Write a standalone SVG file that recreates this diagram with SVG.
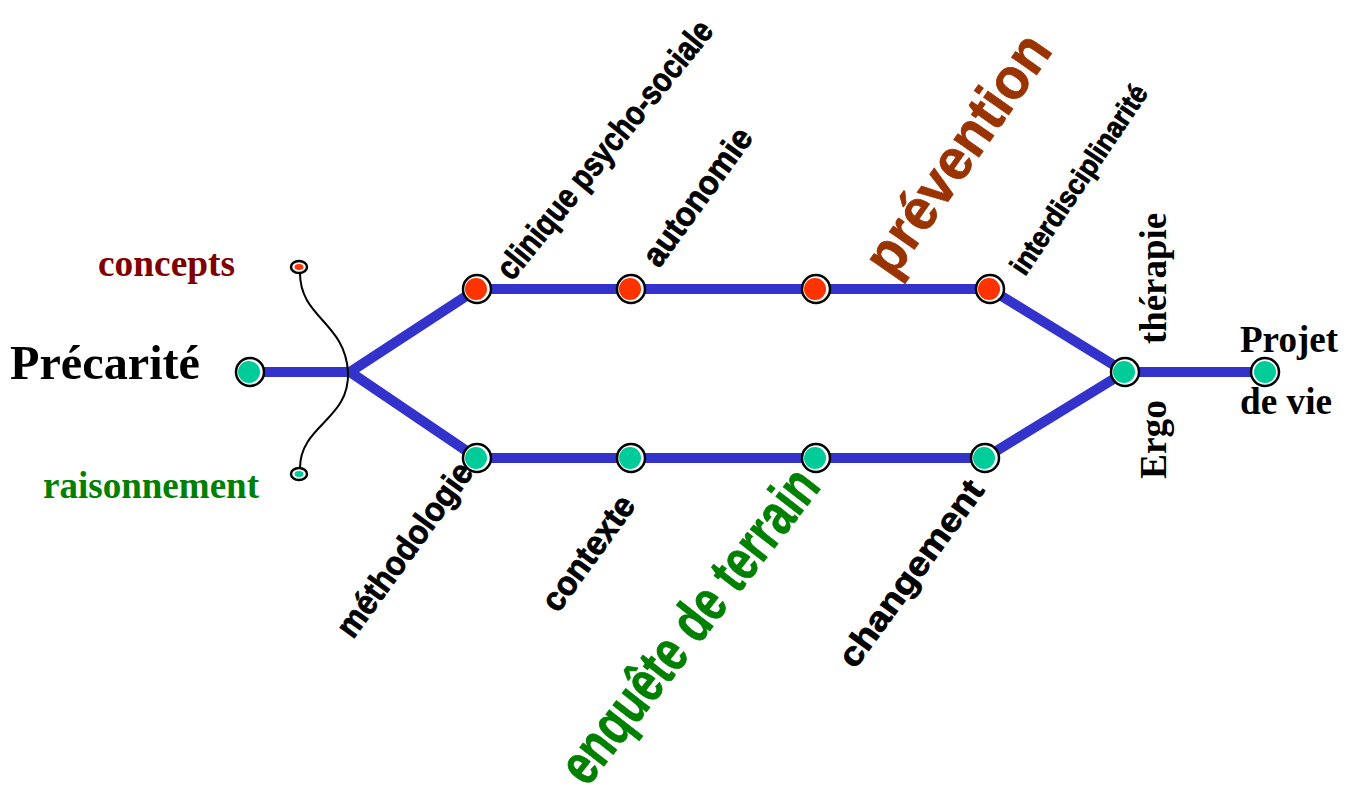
<svg xmlns="http://www.w3.org/2000/svg" width="1351" height="794" viewBox="0 0 1351 794">
<style>
.ring{fill:#fff;stroke:#000;stroke-width:2.5}
.red{fill:#ff3300}
.teal{fill:#00cc99}
.tm{font-family:"Liberation Serif",serif;font-weight:bold}
.rot{font-family:"Liberation Sans",sans-serif;font-weight:bold;fill:#000;stroke:#000;stroke-width:0.8}
.line{stroke:#3333cc;stroke-width:10;fill:none;stroke-linejoin:round}
</style>
<rect width="1351" height="794" fill="#fff"/>
<g id="connectors">
<polyline class="line" points="237,372 350,372 477,289 990,289 1125,372 1265,372"/>
<polyline class="line" points="350,372 477,458 985,458 1125,372"/>
<path d="M300,273 C300,318 345,322 348,372 C350,420 300,425 300,468" fill="none" stroke="#000" stroke-width="2"/>
</g>
<g id="n-precarite"><circle class="ring" cx="250" cy="372" r="14"/><circle class="teal" cx="249" cy="372" r="11"/>
<text class="tm" x="10" y="379" font-size="48" textLength="190" lengthAdjust="spacingAndGlyphs">Précarité</text></g>
<g id="n-concepts"><ellipse class="ring" cx="299" cy="267" rx="8" ry="6" stroke-width="2"/><ellipse class="red" cx="299" cy="267" rx="4.5" ry="3"/>
<text class="tm" x="98" y="276" font-size="37" fill="#800000" textLength="137" lengthAdjust="spacingAndGlyphs">concepts</text></g>
<g id="n-raisonnement"><ellipse class="ring" cx="299" cy="474" rx="8" ry="6" stroke-width="2"/><ellipse class="teal" cx="299" cy="474" rx="4.5" ry="3"/>
<text class="tm" x="43" y="498" font-size="37" fill="#008000" textLength="216" lengthAdjust="spacingAndGlyphs">raisonnement</text></g>
<g id="n-clinique"><circle class="ring" cx="477" cy="289" r="14"/><circle class="red" cx="476" cy="289" r="11"/>
<text class="rot" transform="translate(512,282) rotate(-51)" font-size="34" textLength="322" lengthAdjust="spacingAndGlyphs">clinique psycho-sociale</text></g>
<g id="n-autonomie"><circle class="ring" cx="631" cy="289" r="14"/><circle class="red" cx="630" cy="289" r="11"/>
<text class="rot" transform="translate(659,269) rotate(-54)" font-size="34" textLength="162" lengthAdjust="spacingAndGlyphs">autonomie</text></g>
<g id="n-prevention"><circle class="ring" cx="816" cy="289" r="14"/><circle class="red" cx="815" cy="289" r="11"/>
<text class="rot" transform="translate(893,280) rotate(-55)" font-size="58" style="fill:#993300;stroke:#993300" textLength="280" lengthAdjust="spacingAndGlyphs">prévention</text></g>
<g id="n-interdisciplinarite"><circle class="ring" cx="990" cy="289" r="14"/><circle class="red" cx="989" cy="289" r="11"/>
<text class="rot" transform="translate(1025,277) rotate(-56)" font-size="29" textLength="222" lengthAdjust="spacingAndGlyphs">interdisciplinarité</text></g>
<g id="n-methodologie"><circle class="ring" cx="477" cy="458" r="14"/><circle class="teal" cx="476" cy="458" r="11"/>
<text class="rot" transform="translate(353,640) rotate(-54)" font-size="34" textLength="207" lengthAdjust="spacingAndGlyphs">méthodologie</text></g>
<g id="n-contexte"><circle class="ring" cx="631" cy="458" r="14"/><circle class="teal" cx="630" cy="458" r="11"/>
<text class="rot" transform="translate(558,614) rotate(-54)" font-size="34" textLength="134" lengthAdjust="spacingAndGlyphs">contexte</text></g>
<g id="n-enquete"><circle class="ring" cx="816" cy="458" r="14"/><circle class="teal" cx="815" cy="458" r="11"/>
<text class="rot" transform="translate(587,788) rotate(-52)" font-size="58" style="fill:#008000;stroke:#008000" textLength="382" lengthAdjust="spacingAndGlyphs">enquête de terrain</text></g>
<g id="n-changement"><circle class="ring" cx="985" cy="458" r="14"/><circle class="teal" cx="984" cy="458" r="11"/>
<text class="rot" transform="translate(855,670) rotate(-54)" font-size="34" textLength="222" lengthAdjust="spacingAndGlyphs">changement</text></g>
<g id="n-ergo"><circle class="ring" cx="1125" cy="372" r="14"/><circle class="teal" cx="1124" cy="372" r="11"/>
<text class="tm" transform="translate(1166,344) rotate(-90)" font-size="37" textLength="131" lengthAdjust="spacingAndGlyphs">thérapie</text>
<text class="tm" transform="translate(1166,479) rotate(-90)" font-size="37" textLength="79" lengthAdjust="spacingAndGlyphs">Ergo</text></g>
<g id="n-projet"><circle class="ring" cx="1265" cy="372" r="14"/><circle class="teal" cx="1265" cy="372" r="11"/>
<text class="tm" x="1240" y="352" font-size="37" textLength="98" lengthAdjust="spacingAndGlyphs">Projet</text>
<text class="tm" x="1240" y="414" font-size="37" textLength="92" lengthAdjust="spacingAndGlyphs">de vie</text></g>
</svg>
